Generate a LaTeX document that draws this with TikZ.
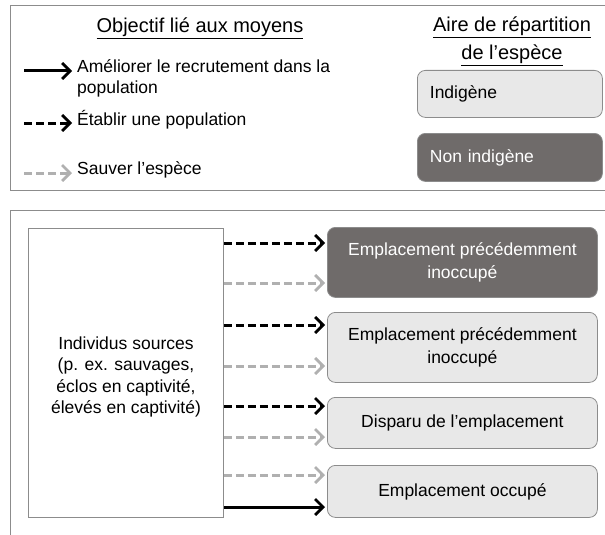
\documentclass[tikz,border=0pt]{standalone}
\usepackage{fontspec}
\setmainfont{Liberation Sans}
\usetikzlibrary{arrows.meta}
\definecolor{framegray}{HTML}{8C8C8C}
\definecolor{lightfill}{HTML}{E8E8E8}
\definecolor{darkfill}{HTML}{6F6B6A}
\definecolor{palearrow}{HTML}{B0B0B0}
\tikzset{
  frame/.style={draw=framegray, line width=0.8pt},
  site/.style={draw=framegray, line width=0.8pt, rounded corners=8pt, minimum width=270pt, align=center, font=\fontsize{17.5}{23}\selectfont},
  lightsite/.style={site, fill=lightfill, text=black},
  darksite/.style={site, fill=darkfill, text=white},
  conn/.style={line width=3pt, shorten >=2pt, -{Straight Barb[length=8pt,width=16pt,line width=2.8pt]}},
  establish/.style={conn, black, dash pattern=on 8pt off 4pt},
  rescue/.style={conn, palearrow, dash pattern=on 8pt off 4pt},
  recruit/.style={conn, black},
  legendtext/.style={font=\fontsize{17.5}{21}\selectfont, anchor=west, align=left, inner sep=0pt},
  heading/.style={font=\fontsize{20}{28}\selectfont, inner sep=0pt}
}
\begin{document}
\begin{tikzpicture}[x=1pt,y=-1pt]
\useasboundingbox (0,0) rectangle (605,535);
% legend frame
\draw[frame] (610,5) -- (10,5) -- (10,190) -- (610,190);
\node[heading] (t1) at (200,28) {\underline{Objectif lié aux moyens}};
\node[heading, align=center] (t2) at (512,41) {\underline{Aire de répartition}\\\underline{de l’espèce}};
% legend arrows
\coordinate (l1a) at (24,71); \coordinate (l1b) at (74,71);
\coordinate (l2a) at (24,123); \coordinate (l2b) at (74,123);
\coordinate (l3a) at (24,173); \coordinate (l3b) at (74,173);
\draw[recruit] (l1a) -- (l1b);
\draw[establish] (l2a) -- (l2b);
\draw[rescue] (l3a) -- (l3b);
\node[legendtext] (lt1) at (77,78) {Améliorer le recrutement dans la\\population};
\node[legendtext] (lt2) at (77,120) {Établir une population};
\node[legendtext] (lt3) at (77,170) {Sauver l’espèce};
% range boxes
\node[lightsite, minimum width=185pt, minimum height=47pt, text width=160pt, align=left, anchor=north west] (nat) at (417,70) {Indigène};
\node[darksite, minimum width=185pt, minimum height=48pt, text width=160pt, align=left, anchor=north west] (non) at (417,133) {Non indigène};
% diagram frame
\draw[frame] (610,210) -- (10,210) -- (10,540);
% source box
\node[frame, draw, minimum width=195pt, minimum height=289pt, anchor=north west, inner sep=0pt] (src) at (28,228) {};
\node[align=center, font=\fontsize{17.5}{21.5}\selectfont] (srct) at (126,377) {Individus sources\\(p. ex. sauvages,\\éclos en captivité,\\élevés en captivité)};
% destination sites
\node[darksite, minimum height=70pt, anchor=north west] (s1) at (327,227) {Emplacement précédemment\\inoccupé};
\node[lightsite, minimum height=70pt, anchor=north west] (s2) at (327,312) {Emplacement précédemment\\inoccupé};
\node[lightsite, minimum height=51pt, anchor=north west] (s3) at (327,397) {Disparu de l’emplacement};
\node[lightsite, minimum height=52pt, anchor=north west] (s4) at (327,465) {Emplacement occupé};
% translocation arrows
\draw[establish] (src.east |- 0,243) -- (s1.west |- 0,243);
\draw[rescue] (src.east |- 0,283) -- (s1.west |- 0,283);
\draw[establish] (src.east |- 0,325) -- (s2.west |- 0,325);
\draw[rescue] (src.east |- 0,366) -- (s2.west |- 0,366);
\draw[establish] (src.east |- 0,406) -- (s3.west |- 0,406);
\draw[rescue] (src.east |- 0,437) -- (s3.west |- 0,437);
\draw[rescue] (src.east |- 0,475) -- (s4.west |- 0,475);
\draw[recruit] (src.east |- 0,507) -- (s4.west |- 0,507);
\end{tikzpicture}
\end{document}
